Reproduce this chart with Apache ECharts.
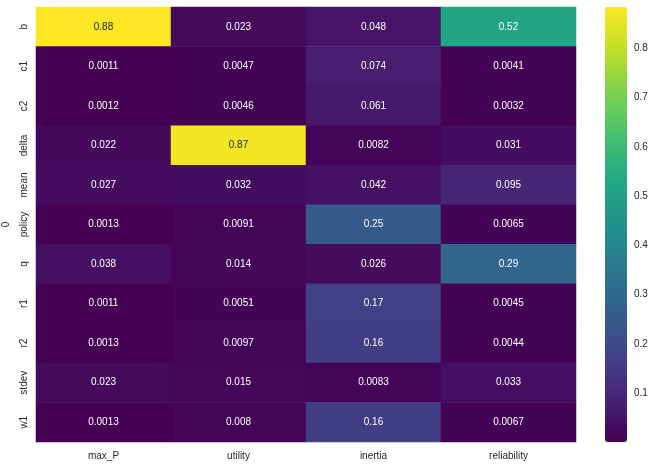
<!DOCTYPE html>
<html>
<head>
<meta charset="utf-8">
<script src="https://cdn.jsdelivr.net/npm/echarts@6/dist/echarts.min.js"></script>
<style>
  html, body { margin: 0; padding: 0; background: #fff; }
  #chart { width: 655px; height: 465px; }
</style>
</head>
<body>
<div id="chart"></div>
<script>
const columns = ["max_P", "utility", "inertia", "reliability"];
const rows = ["b", "c1", "c2", "delta", "mean", "policy", "q", "r1", "r2", "stdev", "w1"];

// one array per row, values in column order
const b      = [0.884, 0.023, 0.048, 0.52];
const c1     = [0.0011, 0.0047, 0.074, 0.0041];
const c2     = [0.0012, 0.0046, 0.061, 0.0032];
const delta  = [0.022, 0.87, 0.0082, 0.031];
const mean   = [0.027, 0.032, 0.042, 0.095];
const policy = [0.0013, 0.0091, 0.25, 0.0065];
const q      = [0.038, 0.014, 0.026, 0.29];
const r1     = [0.0011, 0.0051, 0.17, 0.0045];
const r2     = [0.0013, 0.0097, 0.16, 0.0044];
const stdev  = [0.023, 0.015, 0.0083, 0.033];
const w1     = [0.0013, 0.008, 0.16, 0.0067];
const rowValues = [b, c1, c2, delta, mean, policy, q, r1, r2, stdev, w1];

const colorbarTicks = [0.1, 0.2, 0.3, 0.4, 0.5, 0.6, 0.7, 0.8];

const viridis = ["#440154", "#482475", "#414487", "#355f8d", "#2a788e",
  "#21918c", "#22a884", "#44bf70", "#7ad151", "#bddf26", "#fde725"];

let all = [].concat(...rowValues);
let vMin = Math.min(...all);
let vMax = Math.max(...all);

let data = [];
for (let i in rowValues) {
  for (let j in columns) {
    let v = rowValues[i][j];
    let t = (v - vMin) / (vMax - vMin);
    data.push({
      value: [Number(j), Number(i), v],
      label: { color: t > 0.7 ? "#262626" : "#ffffff" },
    });
  }
}

let myChart = echarts.init(document.getElementById("chart"));
let option = {
  backgroundColor: "#ffffff",
  animation: false,
  textStyle: { fontFamily: "Liberation Sans, Arial, sans-serif" },
  grid: [
    { left: 36, right: 79, top: 7, bottom: 23, outerBoundsMode: "none", containLabel: false },
    { left: 605, width: 22, top: 7, height: 435, outerBoundsMode: "none", containLabel: false },
  ],
  xAxis: [
    {
      type: "category",
      data: columns,
      gridIndex: 0,
      axisLine: { show: false },
      axisTick: { show: false },
      axisLabel: { color: "#262626", fontSize: 10, margin: 9 },
      splitArea: { show: false },
    },
    { type: "value", gridIndex: 1, show: false },
  ],
  yAxis: [
    {
      type: "category",
      data: rows,
      inverse: true,
      gridIndex: 0,
      name: "0",
      nameLocation: "middle",
      nameRotate: 90,
      nameGap: 20,
      nameTextStyle: { color: "#262626", fontSize: 10 },
      axisLine: { show: false },
      axisTick: { show: false },
      axisLabel: { color: "#262626", fontSize: 10, rotate: 90, margin: 7 },
      splitArea: { show: false },
    },
    {
      type: "value",
      gridIndex: 1,
      position: "right",
      min: vMin,
      max: vMax,
      axisLine: { show: false },
      splitLine: { show: false },
      axisTick: {
        show: true,
        length: 3.5,
        customValues: colorbarTicks,
        lineStyle: { color: "#262626", width: 0.8 },
      },
      axisLabel: {
        color: "#262626",
        fontSize: 10,
        margin: 7,
        customValues: colorbarTicks,
        formatter: (v) => v.toFixed(1),
      },
    },
  ],
  visualMap: {
    type: "continuous",
    min: vMin,
    max: vMax,
    dimension: 2,
    seriesIndex: 0,
    calculable: false,
    orient: "vertical",
    left: 605,
    top: 7,
    padding: 0,
    itemWidth: 22,
    itemHeight: 435,
    text: null,
    showLabel: false,
    inRange: { color: viridis },
  },
  series: [
    {
      type: "heatmap",
      xAxisIndex: 0,
      yAxisIndex: 0,
      data: data,
      label: {
        show: true,
        fontSize: 10,
        formatter: (p) => String(Number(p.value[2].toPrecision(2))),
      },
      itemStyle: { borderWidth: 0 },
      emphasis: { disabled: true },
    },
  ],
};
myChart.setOption(option);
</script>
</body>
</html>
